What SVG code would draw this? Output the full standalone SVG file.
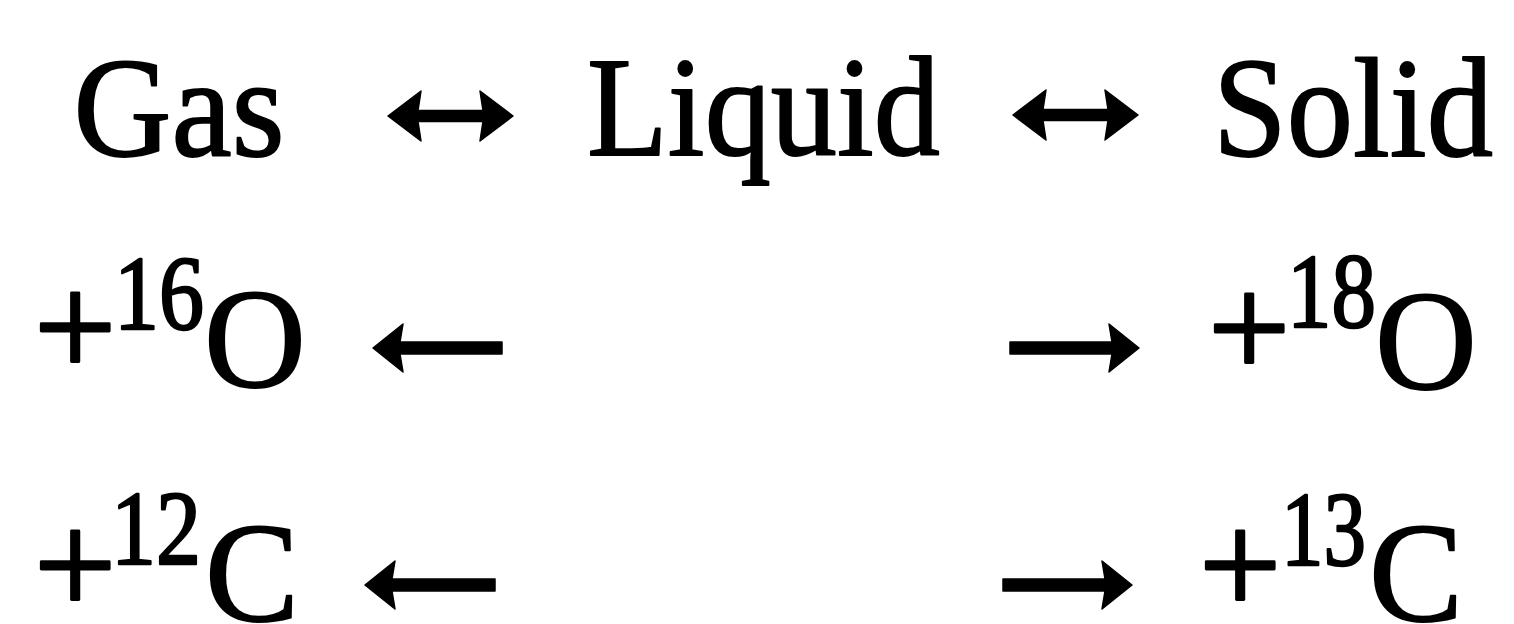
<svg xmlns="http://www.w3.org/2000/svg" width="1514" height="624" viewBox="0 0 1514 624">
  <style>
    .t { font-family: "Liberation Serif", "Times New Roman", serif; fill: #000; stroke: #000; stroke-width: 1.8; stroke-linejoin: round; }
    .big { font-size: 141px; }
    .sup { font-size: 105px; stroke-width: 2.4; }
    .plus { font-size: 146px; stroke-width: 2.8; }
    .arrow { fill: #000; stroke: #000; stroke-width: 1.5; stroke-linejoin: round; }
  </style>
  <rect width="1514" height="624" fill="#fff"/>

  <g id="gas"><text class="t big" x="73.5" y="156" textLength="211" lengthAdjust="spacingAndGlyphs">Gas</text></g>
  <g id="liquid"><text class="t big" x="587" y="155" textLength="353" lengthAdjust="spacingAndGlyphs">Liquid</text></g>
  <g id="solid"><text class="t big" x="1213" y="156" textLength="280" lengthAdjust="spacingAndGlyphs">Solid</text></g>

  <g id="o16">
    <text class="t plus" x="34" y="376">+</text>
    <text class="t sup" x="114" y="329" textLength="90" lengthAdjust="spacingAndGlyphs">16</text>
    <text class="t big" x="204" y="387">O</text>
  </g>
  <g id="o18">
    <text class="t plus" x="1208" y="377">+</text>
    <text class="t sup" x="1287" y="327" textLength="89" lengthAdjust="spacingAndGlyphs">18</text>
    <text class="t big" x="1375" y="389">O</text>
  </g>
  <g id="c12">
    <text class="t plus" x="34" y="614">+</text>
    <text class="t sup" x="111" y="564" textLength="90" lengthAdjust="spacingAndGlyphs">12</text>
    <text class="t big" x="205" y="621">C</text>
  </g>
  <g id="c13">
    <text class="t plus" x="1199" y="614">+</text>
    <text class="t sup" x="1281" y="565" textLength="85" lengthAdjust="spacingAndGlyphs">13</text>
    <text class="t big" x="1369" y="621">C</text>
  </g>

  <g id="connectors">
    <path class="arrow" d="M388,116 L421,91 L418,110.5 L483,110.5 L480,91 L513,116 L480,141 L483,121.5 L418,121.5 L421,141 Z"/>
    <path class="arrow" d="M1013,115 L1046,90 L1043,109.5 L1108,109.5 L1105,90 L1138,115 L1105,140 L1108,120.5 L1043,120.5 L1046,140 Z"/>
    <path class="arrow" d="M373,348 L403,324 L400,342 L502,342 L502,354 L400,354 L403,372 Z"/>
    <path class="arrow" d="M1139,348 L1109,324 L1112,342 L1010,342 L1010,354 L1112,354 L1109,372 Z"/>
    <path class="arrow" d="M365,585 L395,561 L392,579 L495,579 L495,591 L392,591 L395,609 Z"/>
    <path class="arrow" d="M1132,585 L1102,561 L1105,579 L1003,579 L1003,591 L1105,591 L1102,609 Z"/>
  </g>
</svg>
